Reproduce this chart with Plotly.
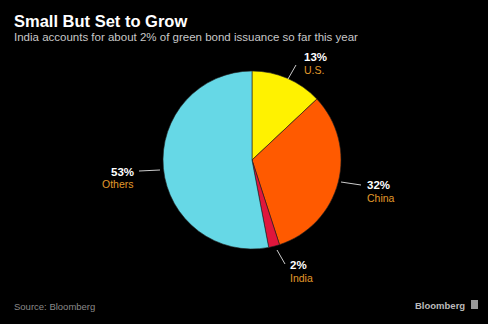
import plotly.graph_objects as go

# Data
categories = ["U.S.", "China", "India", "Others"]
shares = [13, 32, 2, 53]
colors = ["#FFF200", "#FF5A00", "#E0163C", "#66D8E6"]

title = "Small But Set to Grow"
subtitle = "India accounts for about 2% of green bond issuance so far this year"
source = "Source: Bloomberg"

W, H = 488, 324
FONT = "Liberation Sans"

def px(x):
    return x / W

def py(y):
    return 1 - y / H

fig = go.Figure()
fig.add_trace(go.Pie(
    labels=categories,
    values=shares,
    sort=False,
    direction="clockwise",
    rotation=0,
    textinfo="none",
    hoverinfo="label+percent",
    marker=dict(colors=colors, line=dict(color="#222222", width=0.6)),
    domain=dict(x=[px(163), px(341)], y=[py(249), py(71)]),
    showlegend=False,
))

# label layout: (pct text x, pct y, name y, anchor, line x0,y0,x1,y1)
label_layout = {
    "U.S.":   dict(x=302, y1=57, y2=70, anchor="left", line=(288, 79, 296, 65)),
    "China":  dict(x=365, y1=185, y2=198, anchor="left", line=(341, 182, 361, 185)),
    "India":  dict(x=288, y1=265, y2=278, anchor="left", line=(277, 250, 285, 264)),
    "Others": dict(x=136, y1=172, y2=184, anchor="right", line=(139, 171, 160, 170)),
}

annotations = []
shapes = []
for cat, val in zip(categories, shares):
    L = label_layout[cat]
    annotations.append(dict(
        x=px(L["x"]), y=py(L["y1"]), xref="paper", yref="paper",
        text=f"<b>{val}%</b>", showarrow=False, xanchor=L["anchor"], yanchor="middle",
        font=dict(family=FONT, size=11.5, color="#FFFFFF"),
    ))
    annotations.append(dict(
        x=px(L["x"]), y=py(L["y2"]), xref="paper", yref="paper",
        text=cat, showarrow=False, xanchor=L["anchor"], yanchor="middle",
        font=dict(family=FONT, size=10.5, color="#E09A2A"),
    ))
    x0, y0, x1, y1 = L["line"]
    shapes.append(dict(type="line", xref="paper", yref="paper",
                       x0=px(x0), y0=py(y0), x1=px(x1), y1=py(y1),
                       line=dict(color="#CCCCCC", width=1)))

# titles
annotations.append(dict(x=px(12), y=py(21.5), xref="paper", yref="paper", text=f"<b>{title}</b>",
                        showarrow=False, xanchor="left", yanchor="middle",
                        font=dict(family=FONT, size=16.5, color="#FFFFFF")))
annotations.append(dict(x=px(12), y=py(37), xref="paper", yref="paper", text=subtitle,
                        showarrow=False, xanchor="left", yanchor="middle",
                        font=dict(family=FONT, size=11.5, color="#C8C8C8")))
annotations.append(dict(x=px(12), y=py(306), xref="paper", yref="paper", text=source,
                        showarrow=False, xanchor="left", yanchor="middle",
                        font=dict(family=FONT, size=9.5, color="#8A8A8A")))
annotations.append(dict(x=px(467), y=py(305), xref="paper", yref="paper", text="<b>Bloomberg</b>",
                        showarrow=False, xanchor="right", yanchor="middle",
                        font=dict(family=FONT, size=9.5, color="#BBBBBB")))
shapes.append(dict(type="rect", xref="paper", yref="paper",
                   x0=px(471), y0=py(300), x1=px(478), y1=py(309),
                   fillcolor="#999999", line=dict(width=0)))

fig.update_layout(
    width=W, height=H,
    margin=dict(l=0, r=0, t=0, b=0),
    paper_bgcolor="#000000", plot_bgcolor="#000000",
    annotations=annotations, shapes=shapes,
)

fig.write_html("out.html")
